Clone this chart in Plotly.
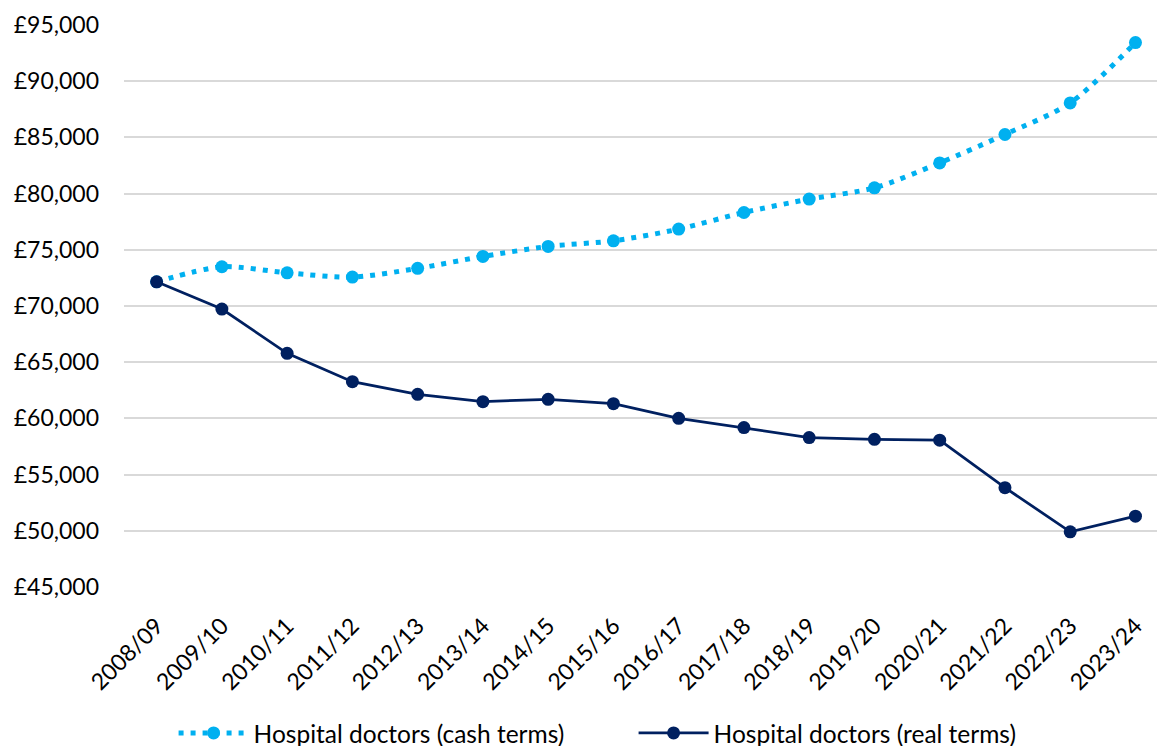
import plotly.graph_objects as go

years = ["2008/09", "2009/10", "2010/11", "2011/12", "2012/13", "2013/14", "2014/15",
         "2015/16", "2016/17", "2017/18", "2018/19", "2019/20", "2020/21", "2021/22",
         "2022/23", "2023/24"]

cash_terms = [72150, 73490, 72950, 72570, 73350, 74410, 75300, 75800, 76840, 78320,
              79510, 80510, 82730, 85260, 88070, 93440]

real_terms = [72150, 69730, 65790, 63270, 62140, 61490, 61700, 61310, 60010, 59180,
              58290, 58140, 58060, 53840, 49910, 51300]

y_ticks = list(range(45000, 95001, 5000))
y_tick_labels = ["\u00a3{:,}".format(v) for v in y_ticks]

CASH_COLOR = "#00B0F0"
REAL_COLOR = "#002060"
FONT = "Lato"

x_idx = list(range(len(years)))

fig = go.Figure()

fig.add_trace(go.Scatter(
    x=x_idx, y=cash_terms, name="Hospital doctors (cash terms)",
    mode="lines+markers",
    line=dict(color=CASH_COLOR, width=5, dash="5px,7px", shape="spline", smoothing=0.8),
    marker=dict(color=CASH_COLOR, size=13),
))

fig.add_trace(go.Scatter(
    x=x_idx, y=real_terms, name="Hospital doctors (real terms)",
    mode="lines+markers",
    line=dict(color=REAL_COLOR, width=2.75),
    marker=dict(color=REAL_COLOR, size=13),
))

fig.update_layout(
    width=1157, height=746,
    margin=dict(l=124, r=0, t=25, b=159, autoexpand=False),
    paper_bgcolor="white", plot_bgcolor="white",
    font=dict(family=FONT, size=23, color="#000000"),
    showlegend=True,
    legend=dict(
        orientation="h", x=0.048, xanchor="left",
        yref="container", y=0.0174, yanchor="middle",
        font=dict(family=FONT, size=24.5, color="#000000"),
        itemwidth=70, entrywidth=375,
        bgcolor="rgba(0,0,0,0)",
    ),
)

fig.update_xaxes(
    tickmode="array", tickvals=x_idx, ticktext=years,
    range=[-0.5, 15.33], tickangle=-45, automargin=False,
    showgrid=False, zeroline=False, showline=False, ticks="",
    tickfont=dict(family=FONT, size=23, color="#000000"),
    ticklabelstandoff=20,
)

fig.update_yaxes(
    range=[45000, 95000], tickmode="array", tickvals=y_ticks, ticktext=y_tick_labels,
    automargin=False,
    showgrid=True, gridcolor="#D9D9D9", gridwidth=1.5,
    zeroline=False, showline=False, ticks="",
    tickfont=dict(family=FONT, size=23, color="#000000"),
    ticklabelstandoff=24,
)

fig.write_html("out.html")
